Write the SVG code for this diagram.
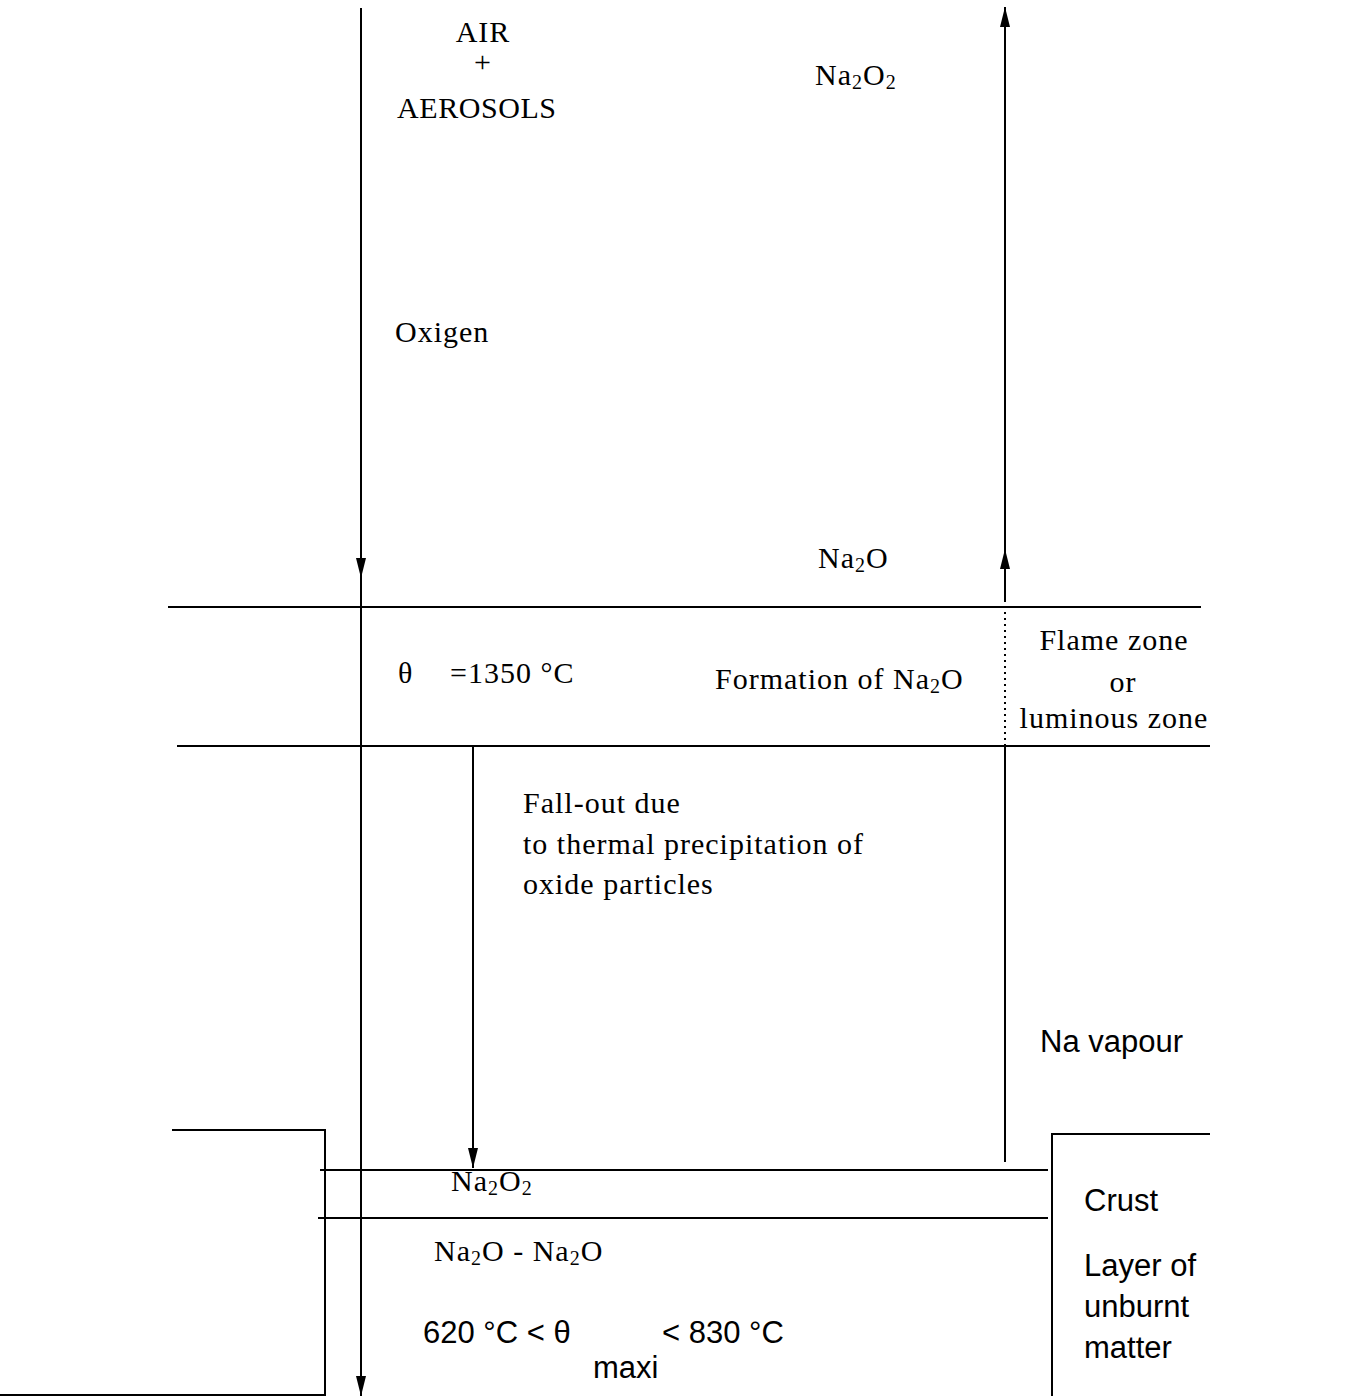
<svg xmlns="http://www.w3.org/2000/svg" width="1355" height="1396" viewBox="0 0 1355 1396">
<style>
.ln{stroke:#000;stroke-width:2;fill:none}
.dot{stroke:#000;stroke-width:2;fill:none;stroke-dasharray:2 4}
.sf{font-family:"Liberation Serif","Times New Roman",serif;font-size:30px;letter-spacing:1px;fill:#000}
.ss{font-family:"Liberation Sans",Arial,sans-serif;font-size:31px;fill:#000}
.sub{font-size:20px}
</style>
<defs>
<marker id="ah" markerUnits="userSpaceOnUse" markerWidth="20" markerHeight="10" viewBox="0 0 20 10" refX="20" refY="5" orient="auto">
<path d="M0,0 L20,5 L0,10 z" fill="#000"/>
</marker>
</defs>
<rect width="1355" height="1396" fill="#fff"/>
<g id="connectors">
<line class="ln" x1="361" y1="8" x2="361" y2="578" marker-end="url(#ah)"/>
<line class="ln" x1="361" y1="576" x2="361" y2="1396" marker-end="url(#ah)"/>
<line class="ln" x1="1005" y1="1162" x2="1005" y2="746"/>
<line class="dot" x1="1005" y1="746" x2="1005" y2="600"/>
<line class="ln" x1="1005" y1="600" x2="1005" y2="549" marker-end="url(#ah)"/>
<line class="ln" x1="1005" y1="551" x2="1005" y2="7" marker-end="url(#ah)"/>
<line class="ln" x1="473" y1="746" x2="473" y2="1168" marker-end="url(#ah)"/>
</g>
<g id="zones">
<line class="ln" x1="168" y1="607" x2="1201" y2="607"/>
<line class="ln" x1="177" y1="746" x2="1210" y2="746"/>
<polyline class="ln" points="172,1130 325,1130 325,1396"/>
<line class="ln" x1="320" y1="1170" x2="1048" y2="1170"/>
<line class="ln" x1="318" y1="1218" x2="1048" y2="1218"/>
<polyline class="ln" points="1052,1396 1052,1134 1210,1134"/>
<line class="ln" x1="0" y1="1395" x2="325" y2="1395"/>
</g>
<g id="air">
<text class="sf" x="483" y="42" text-anchor="middle">AIR</text>
<text class="sf" x="483" y="72" text-anchor="middle">+</text>
<text class="sf" x="397" y="118" textLength="160">AEROSOLS</text>
</g>
<g id="na2o2-top"><text class="sf" x="815" y="85">Na<tspan class="sub" dy="4">2</tspan><tspan dy="-4">O</tspan><tspan class="sub" dy="4">2</tspan></text></g>
<g id="oxigen"><text class="sf" x="395" y="342">Oxigen</text></g>
<g id="na2o-top"><text class="sf" x="818" y="568">Na<tspan class="sub" dy="4">2</tspan><tspan dy="-4">O</tspan></text></g>
<g id="flame">
<text class="sf" x="398" y="683">θ</text>
<text class="sf" x="450" y="683">=1350 °C</text>
<text class="sf" x="715" y="689">Formation of Na<tspan class="sub" dy="4">2</tspan><tspan dy="-4">O</tspan></text>
<text class="sf" x="1114" y="650" text-anchor="middle">Flame zone</text>
<text class="sf" x="1123" y="692" text-anchor="middle">or</text>
<text class="sf" x="1114" y="728" text-anchor="middle">luminous zone</text>
</g>
<g id="fallout">
<text class="sf" x="523" y="813">Fall-out due</text>
<text class="sf" x="523" y="854">to thermal precipitation of</text>
<text class="sf" x="523" y="894">oxide particles</text>
</g>
<g id="vapour"><text class="ss" x="1040" y="1052">Na vapour</text></g>
<g id="pool">
<text class="sf" x="451" y="1191">Na<tspan class="sub" dy="4">2</tspan><tspan dy="-4">O</tspan><tspan class="sub" dy="4">2</tspan></text>
<text class="sf" x="434" y="1261">Na<tspan class="sub" dy="4">2</tspan><tspan dy="-4">O - Na</tspan><tspan class="sub" dy="4">2</tspan><tspan dy="-4">O</tspan></text>
<text class="ss" x="423" y="1343">620 °C &lt; θ</text>
<text class="ss" x="662" y="1343">&lt; 830 °C</text>
<text class="ss" x="593" y="1378">maxi</text>
</g>
<g id="crust">
<text class="ss" x="1084" y="1211">Crust</text>
<text class="ss" x="1084" y="1276">Layer of</text>
<text class="ss" x="1084" y="1317">unburnt</text>
<text class="ss" x="1084" y="1358">matter</text>
</g>
</svg>
